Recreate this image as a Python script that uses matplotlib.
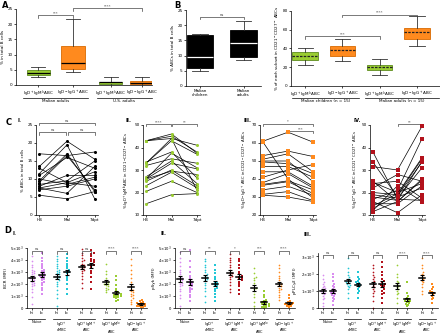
import numpy as np
import matplotlib.pyplot as plt

W, H = 440, 333
fig = plt.figure(figsize=(W / 100, H / 100), dpi=100)
plt.rcParams['font.family'] = 'DejaVu Sans'
FS = 3.0

GREEN = '#9ACD32'
GREEN_E = '#5E8C1E'
ORANGE = '#FF8A1E'
ORANGE_E = '#D86A00'
RED = '#B3121C'
CYAN = '#22C7D6'
VIOLET = '#D98CF0'

# ---------------- data ----------------
# A: box stats (whislo, q1, med, q3, whishi)
a_labels = [r'IgD$^+$IgM$^{lo}$ABC', r'IgD$^-$IgG$^+$ABC', r'IgD$^+$IgM$^{lo}$ABC', r'IgD$^-$IgG$^+$ABC']
a_whislo = [2.7, 4.3, 0.0, 0.0]
a_q1 = [3.3, 5.3, 0.3, 0.2]
a_med = [4.0, 7.3, 0.9, 0.8]
a_q3 = [5.0, 12.7, 1.0, 1.3]
a_whishi = [6.0, 21.8, 2.6, 2.5]

# B left
bl_labels = ['Malian\nchildren', 'Malian\nadults']
bl_whislo = [5.0, 8.7]
bl_q1 = [5.8, 9.6]
bl_med = [9.6, 14.0]
bl_q3 = [16.8, 18.4]
bl_whishi = [17.2, 21.5]

# B right
br_labels = [r'IgD$^+$IgM$^{lo}$ABC', r'IgD$^-$IgG$^+$ABC', r'IgD$^+$IgM$^{lo}$ABC', r'IgD$^-$IgG$^+$ABC']
br_whislo = [22, 27, 11.5, 43]
br_q1 = [28, 32, 17, 50]
br_med = [32.5, 38, 20, 58]
br_q3 = [36, 42.5, 22.5, 62]
br_whishi = [41, 50, 28.5, 75]

# C: paired values at HB, Mal, 7dpt
c_times = ['HB', 'Mal', '7dpt']
c1_hb = [17, 13.5, 13, 11.5, 11, 10, 9.5, 8.5, 8, 7.5, 7.5, 7, 5.5, 9]
c1_mal = [16.5, 20.5, 9, 19.5, 16, 8.5, 17, 9.5, 11, 9, 6, 8, 4.5, 16.5]
c1_7d = [17.5, 15.5, 12, 4.5, 13, 10.5, 6.5, 15, 11, 8, 13.5, 10, 6.5, 7]

c2_hb = [43, 43, 33.5, 33, 32, 27, 26, 26, 25, 23, 20.5, 15, 33, 26, 43]
c2_mal = [45, 46, 38, 44, 35, 34, 29.5, 37.5, 30, 29, 25, 19, 43, 33, 44]
c2_7d = [38, 37.5, 26.5, 21, 33, 24, 28, 31, 23, 22, 20, 19.5, 37, 30.5, 41]

c3_hb = [61, 60.5, 53, 51, 50, 49.5, 47, 44, 41, 38, 37, 36.5, 34, 31.5, 31]
c3_mal = [66, 40, 55.5, 54, 50, 48.5, 47, 44, 45, 43, 39, 38.5, 36, 33, 30]
c3_7d = [60.5, 29.5, 52.5, 44, 38.5, 43, 41, 36, 48, 35, 34, 32, 31, 28, 27.5]

c4_hb = [38, 33.5, 31.5, 25, 24.5, 24, 22, 20, 19, 18, 17, 16, 15, 14, 13, 12, 11.5]
c4_mal = [17, 18, 30, 16, 20, 25, 28, 19, 17.5, 16.5, 21, 11, 15, 19.5, 18.5, 23, 16]
c4_7d = [16.5, 22, 49.5, 26, 24, 17.5, 25, 35, 31, 34, 44, 19, 23, 35.5, 33.5, 16, 25.5]

# D: MFI values (x10^3), hi / lo per subset
d_groups = ['Naive', 'IgD$^+$\ncMBC', 'IgD$^+$IgM$^+$\nABC', 'IgD$^+$IgM$^{lo}$\nABC', 'IgD$^-$IgG$^+$\nABC']
d_colors = [VIOLET, CYAN, RED, GREEN, ORANGE]

d1 = [
    [0.3, 0.9, 1.3, 1.6, 1.8, 1.9, 2.0, 2.1, 2.2, 2.3, 2.4, 2.5, 2.5, 2.6, 2.7, 2.8, 2.9, 3.0, 3.1, 3.2, 3.4, 3.6, 3.9, 4.3],
    [1.2, 1.5, 1.7, 1.9, 2.1, 2.2, 2.3, 2.4, 2.5, 2.6, 2.7, 2.7, 2.8, 2.9, 3.0, 3.1, 3.2, 3.3, 3.5, 3.7, 3.9, 4.2, 4.6],
    [0.2, 0.8, 1.2, 1.5, 1.8, 2.0, 2.2, 2.3, 2.5, 2.6, 2.7, 2.8, 2.9, 3.0, 3.1, 3.2, 3.3, 3.5, 3.7, 3.9, 4.1, 4.3],
    [1.2, 1.6, 2.0, 2.3, 2.5, 2.7, 2.9, 3.0, 3.1, 3.2, 3.3, 3.5, 3.7, 3.9, 4.2, 4.5],
    [1.7, 2.1, 2.4, 2.7, 2.9, 3.1, 3.2, 3.3, 3.4, 3.5, 3.6, 3.7, 3.9, 4.0, 4.2, 4.4, 4.6, 4.9],
    [1.6, 2.2, 2.6, 2.9, 3.1, 3.3, 3.5, 3.6, 3.7, 3.8, 3.9, 4.0, 4.1, 4.3, 4.5, 4.6, 4.8],
    [1.3, 1.5, 1.6, 1.7, 1.8, 1.9, 2.0, 2.0, 2.1, 2.2, 2.3, 2.5, 2.8, 3.1, 3.7],
    [0.6, 0.7, 0.8, 0.9, 0.9, 1.0, 1.0, 1.1, 1.1, 1.2, 1.2, 1.3, 1.4, 1.6, 1.9, 2.3, 2.7],
    [0.3, 0.5, 0.7, 0.8, 1.0, 1.1, 1.2, 1.3, 1.4, 1.5, 1.6, 1.8, 2.0, 2.2, 2.5, 2.8, 3.2, 3.6, 4.1],
    [0.05, 0.1, 0.15, 0.2, 0.2, 0.25, 0.3, 0.3, 0.35, 0.4, 0.45, 0.5, 0.6, 0.7],
]
d2 = [
    [0.2, 0.8, 1.1, 1.4, 1.6, 1.8, 1.9, 2.0, 2.1, 2.2, 2.3, 2.4, 2.5, 2.6, 2.8, 3.0, 3.2, 3.5, 3.8, 4.2, 4.7],
    [0.6, 0.9, 1.1, 1.3, 1.5, 1.6, 1.7, 1.8, 1.9, 2.0, 2.1, 2.2, 2.3, 2.5, 2.7, 3.0, 3.4, 3.9, 4.8],
    [0.5, 1.0, 1.4, 1.7, 1.9, 2.1, 2.3, 2.4, 2.5, 2.6, 2.7, 2.8, 3.0, 3.2, 3.4, 3.6, 3.9, 4.1],
    [0.6, 0.9, 1.2, 1.4, 1.6, 1.7, 1.8, 1.9, 2.0, 2.1, 2.2, 2.4, 2.6, 2.9, 3.2, 3.6],
    [1.3, 1.6, 1.9, 2.2, 2.4, 2.6, 2.7, 2.8, 2.9, 3.0, 3.2, 3.4, 3.6, 3.8, 4.0, 4.2, 4.5],
    [1.2, 1.5, 1.8, 2.0, 2.2, 2.3, 2.4, 2.5, 2.6, 2.7, 2.8, 3.0, 3.3, 3.6, 3.9, 4.1],
    [0.0, 0.2, 0.5, 0.9, 1.2, 1.4, 1.6, 1.7, 1.9, 2.1, 2.3, 2.5, 2.6, 2.9, 3.3],
    [0.0, 0.05, 0.1, 0.15, 0.2, 0.25, 0.3, 0.35, 0.4, 0.45, 0.5, 0.6, 0.7, 0.9, 1.1, 1.4],
    [0.7, 0.9, 1.1, 1.3, 1.5, 1.6, 1.7, 1.8, 1.9, 2.0, 2.1, 2.3, 2.5, 2.7, 3.0, 3.3, 3.6],
    [0.1, 0.15, 0.2, 0.25, 0.3, 0.3, 0.35, 0.4, 0.45, 0.5, 0.6, 0.8, 1.1],
]
d3 = [
    [0.1, 0.3, 0.5, 0.6, 0.7, 0.8, 0.85, 0.9, 0.95, 1.0, 1.05, 1.1, 1.15, 1.2, 1.3, 1.4, 1.5, 1.7, 1.9],
    [0.2, 0.4, 0.5, 0.6, 0.7, 0.75, 0.8, 0.85, 0.9, 0.95, 1.0, 1.05, 1.1, 1.2, 1.3, 1.4, 1.6, 1.8, 2.0],
    [0.6, 0.9, 1.1, 1.2, 1.3, 1.35, 1.4, 1.45, 1.5, 1.55, 1.6, 1.7, 1.8, 1.9, 2.1, 2.3, 2.9],
    [0.6, 0.9, 1.0, 1.1, 1.2, 1.3, 1.35, 1.4, 1.45, 1.5, 1.6, 1.7, 1.8, 2.1],
    [0.0, 0.4, 0.7, 0.9, 1.0, 1.1, 1.2, 1.3, 1.4, 1.5, 1.6, 1.7, 1.8, 1.9, 2.1, 2.3, 2.5],
    [0.3, 0.6, 0.8, 0.9, 1.0, 1.1, 1.2, 1.3, 1.35, 1.4, 1.5, 1.6, 1.7, 1.9, 2.1, 2.4, 2.7],
    [0.3, 0.6, 0.8, 0.9, 1.0, 1.1, 1.2, 1.3, 1.4, 1.5, 1.6, 1.8, 2.0, 2.5],
    [0.1, 0.2, 0.25, 0.3, 0.35, 0.4, 0.4, 0.45, 0.5, 0.55, 0.6, 0.7, 0.9, 1.5],
    [0.8, 1.0, 1.2, 1.4, 1.5, 1.6, 1.7, 1.8, 1.9, 2.0, 2.1, 2.3, 2.5, 2.9],
    [0.3, 0.5, 0.6, 0.7, 0.8, 0.85, 0.9, 0.95, 1.0, 1.1, 1.2, 1.4],
]


# ---------------- helpers ----------------
def add_ax(left, top, right, bottom):
    return fig.add_axes([left / W, 1 - bottom / H, (right - left) / W, (bottom - top) / H])


def style(ax):
    for s in ['top', 'right']:
        ax.spines[s].set_visible(False)
    for s in ['left', 'bottom']:
        ax.spines[s].set_linewidth(0.5)
    ax.tick_params(labelsize=FS, width=0.5, length=1.5, pad=1)


def bracket(ax, x1, x2, y, h, txt, tdy=0.0):
    ax.plot([x1, x1, x2, x2], [y - h, y, y, y - h], color='#444444', lw=0.5, clip_on=False)
    ax.text((x1 + x2) / 2, y + tdy, txt, ha='center', va='bottom', fontsize=FS - 0.3, color='#444444')


def underline(ax, x1, x2, yf, txt, tyf, fs=FS, ls=0.9):
    tr = ax.get_xaxis_transform()
    ax.plot([x1, x2], [yf, yf], color='black', lw=0.5, transform=tr, clip_on=False)
    ax.text((x1 + x2) / 2, tyf, txt, ha='center', va='top', fontsize=fs, transform=tr,
            linespacing=ls)


def boxes(ax, pos, wl, q1, med, q3, wh, faces, edges, medc, width, medls='-'):
    stats = [dict(whislo=a, q1=b, med=c, q3=d, whishi=e, fliers=[])
             for a, b, c, d, e in zip(wl, q1, med, q3, wh)]
    bp = ax.bxp(stats, positions=pos, widths=width, patch_artist=True, showfliers=False,
                boxprops=dict(lw=0.6), whiskerprops=dict(lw=0.6, color='#333333'),
                capprops=dict(lw=0.6, color='#333333'),
                medianprops=dict(lw=0.9, color=medc, ls=medls))
    for b, f, e in zip(bp['boxes'], faces, edges):
        b.set_facecolor(f)
        b.set_edgecolor(e)
    for c in bp['caps']:
        xs = c.get_xdata()
        m = xs.mean()
        c.set_xdata([m - width * 0.3, m + width * 0.3])
    return bp


def swarm(vals, ymax, hpx, upx, dmin=1.8, maxo=0.45):
    # beeswarm offsets in x data units
    vals = np.asarray(vals)
    order = np.argsort(vals)
    placed = []
    offs = np.zeros(len(vals))
    step = dmin / upx * 0.6
    cands = [0.0]
    k = 1
    while k * step <= maxo:
        cands += [k * step, -k * step]
        k += 1
    for i in order:
        ypx = vals[i] / ymax * hpx
        best, bestd = 0.0, -1
        for o in cands:
            d = min([np.hypot((o - po) * upx, ypx - py) for po, py in placed] + [99])
            if d >= dmin:
                best = o
                break
            if d > bestd:
                best, bestd = o, d
        offs[i] = best
        placed.append((best, ypx))
    return offs


# ---------------- panel A ----------------
axA = add_ax(16, 9, 152, 85)
style(axA)
posA = [0, 1, 2.1, 3]
boxes(axA, posA, a_whislo, a_q1, a_med, a_q3, a_whishi,
      [GREEN, ORANGE, GREEN, ORANGE], [GREEN_E, ORANGE_E, GREEN_E, ORANGE_E], 'black', 0.68)
axA.set_ylim(0, 25)
axA.set_yticks([0, 5, 10, 15, 20, 25])
axA.set_xlim(-0.65, 3.3)
axA.set_xticks(posA)
axA.set_xticklabels(a_labels, fontsize=FS)
axA.set_ylabel('% in total B cells', fontsize=FS, labelpad=1.5)
underline(axA, -0.45, 1.45, -0.165, 'Malian adults', -0.18)
underline(axA, 1.7, 3.3, -0.165, 'U.S. adults', -0.18)
bracket(axA, 0, 1, 23.0, 0.8, '***')
bracket(axA, 1, 3, 25.3, 0.8, '****')
fig.text(2 / W, 1 - 1 / H, 'A', fontsize=6, fontweight='bold', va='top')

# ---------------- panel B ----------------
axBl = add_ax(186, 10, 261, 86)
style(axBl)
boxes(axBl, [0, 1], bl_whislo, bl_q1, bl_med, bl_q3, bl_whishi,
      ['black', 'black'], ['black', 'black'], 'white', 0.6)
axBl.set_ylim(0, 25)
axBl.set_yticks([0, 5, 10, 15, 20, 25])
axBl.set_xlim(-0.32, 1.4)
axBl.set_xticks([0, 1])
axBl.set_xticklabels(bl_labels, fontsize=FS, linespacing=1.0)
axBl.set_ylabel('% ABCs in total B cells', fontsize=FS, labelpad=1.5)
bracket(axBl, 0, 1, 22.8, 0.8, 'ns')
fig.text(174 / W, 1 - 1 / H, 'B', fontsize=6, fontweight='bold', va='top')

axBr = add_ax(291, 11, 440, 86)
style(axBr)
boxes(axBr, [0, 1, 2, 3], br_whislo, br_q1, br_med, br_q3, br_whishi,
      [GREEN, ORANGE, GREEN, ORANGE], [GREEN_E, ORANGE_E, GREEN_E, ORANGE_E], '#222222', 0.68,
      medls=(0, (2, 1)))
axBr.set_ylim(0, 80)
axBr.set_yticks([0, 20, 40, 60, 80])
axBr.set_xlim(-0.38, 3.62)
axBr.set_xticks([0, 1, 2, 3])
axBr.set_xticklabels(br_labels, fontsize=FS)
axBr.set_ylabel('% of each subset in CD21$^-$CD27$^-$ ABCs', fontsize=FS, labelpad=1.5)
underline(axBr, -0.35, 1.45, -0.165, 'Malian children (n = 15)', -0.18)
underline(axBr, 1.6, 3.6, -0.165, 'Malian adults (n = 15)', -0.18)
bracket(axBr, 0, 2, 53, 2.5, '***')
bracket(axBr, 1, 3, 76, 2.5, '****')

# ---------------- panel C ----------------
c_sets = [
    ((36, 125, 98, 215), (0, 25, 5), [c1_hb, c1_mal, c1_7d], 'black', 'o', 'I.',
     '% ABCs in total B cells'),
    ((143, 125, 200, 215), (10, 50, 10), [c2_hb, c2_mal, c2_7d], GREEN, 'o', 'II.',
     '% IgD$^+$IgM$^{lo}$ABC in CD21$^-$CD27$^-$ ABCs'),
    ((260, 125, 316, 215), (20, 70, 10), [c3_hb, c3_mal, c3_7d], ORANGE, 's', 'III.',
     '% IgD$^-$IgG$^+$ ABC in CD21$^-$CD27$^-$ ABCs'),
    ((370, 125, 425, 215), (10, 50, 10), [c4_hb, c4_mal, c4_7d], RED, 's', 'IV.',
     '% IgD$^-$IgG$^-$ ABC in CD21$^-$CD27$^-$ ABCs'),
]
c_axes = []
for box, (lo, hi, st), series, col, mk, ttl, ylab in c_sets:
    ax = add_ax(*box)
    style(ax)
    arr = np.array(series)
    for j in range(arr.shape[1]):
        ax.plot([0, 1, 2], arr[:, j], color='black', lw=0.5, marker=mk, ms=2.2,
                mfc=col, mec=col, mew=0, clip_on=False, zorder=3)
    ax.set_ylim(lo, hi)
    ax.set_yticks(np.arange(lo, hi + 0.1, st))
    ax.set_xlim(-0.12, 2.12)
    ax.set_xticks([0, 1, 2])
    ax.set_xticklabels(c_times, fontsize=FS)
    ax.set_ylabel(ylab, fontsize=FS - 0.3, labelpad=1.5)
    ax.text(-0.3, 1.02, ttl, transform=ax.transAxes, fontsize=FS + 0.8, fontweight='bold',
            ha='left', va='bottom')
    c_axes.append(ax)

bracket(c_axes[0], 0, 2, 25.6, 0.7, 'ns')
bracket(c_axes[0], 0, 0.95, 23.0, 0.7, 'ns')
bracket(c_axes[0], 1.05, 2, 23.0, 0.7, 'ns')
bracket(c_axes[1], 0, 0.97, 50.5, 1.0, '****')
bracket(c_axes[1], 1.03, 2, 50.5, 1.0, '**')
bracket(c_axes[2], 0, 2, 70.8, 1.2, '*')
bracket(c_axes[2], 1, 2, 66.5, 1.2, '***')
bracket(c_axes[3], 1, 2, 50.5, 1.0, '**')
fig.text(6 / W, 1 - 118 / H, 'C', fontsize=6, fontweight='bold', va='top')

# ---------------- panel D ----------------
d_sets = [
    ((27, 248, 147, 308), 5, d1, 'I.', 'BCR (MFI)',
     ['ns', 'ns', 'ns', '****', '****']),
    ((175, 248, 295, 308), 5, d2, 'II.', 'pSyk (MFI)',
     ['ns', '**', '*', '***', '****']),
    ((318, 253, 438, 308), 3, d3, 'III.', r'pPLC$\gamma$2 (MFI)',
     ['ns', 'ns', 'ns', '****', '****']),
]
for (l, t, r, b), ymax, data, ttl, ylab, sig in d_sets:
    ax = add_ax(l, t, r, b)
    style(ax)
    hpx = b - t
    ylim_top = ymax * 1.0 + (0.2 if ymax == 3 else 0)
    positions = []
    for g in range(5):
        for s in range(2):
            x0 = 2.5 * g + 1.0 * s
            positions.append(x0)
            vals = np.array(data[2 * g + s])
            offs = swarm(vals, ylim_top, hpx, 10.0)
            ax.scatter(x0 + offs, vals * 1000, s=1.5, color=d_colors[g], linewidths=0,
                       marker='o' if s == 0 else 's', zorder=2, clip_on=False)
            m = vals.mean()
            se = vals.std(ddof=1) / np.sqrt(len(vals))
            ax.plot([x0 - 0.3, x0 + 0.3], [m * 1000, m * 1000], color='black', lw=1.1, zorder=4)
            ax.errorbar(x0, m * 1000, yerr=se * 1000, color='black', lw=0.8, capsize=1.2,
                        capthick=0.8, zorder=4)
        bracket(ax, 2.5 * g, 2.5 * g + 1, ylim_top * 1000 * 0.955, ylim_top * 1000 * 0.05, sig[g])
        underline(ax, 2.5 * g - 0.35, 2.5 * g + 1.35, -10.5 / hpx, d_groups[g], -12.0 / hpx,
                  fs=FS - 0.4, ls=0.85)
    ax.set_ylim(0, ylim_top * 1000)
    yt = np.arange(0, ymax + 1) * 1000
    ax.set_yticks(yt)
    ax.set_yticklabels(['0'] + ['%d×10$^3$' % k for k in range(1, ymax + 1)], fontsize=FS - 0.3)
    ax.set_xlim(-0.5, 11.6)
    ax.set_xticks(positions)
    ax.set_xticklabels(['hi', 'lo'] * 5, fontsize=FS)
    ax.set_ylabel(ylab, fontsize=FS, labelpad=1)
    ax.text(-0.12, 1.2 if ymax == 5 else 1.3, ttl, transform=ax.transAxes, fontsize=FS + 0.8,
            fontweight='bold', ha='left', va='bottom')
fig.text(4 / W, 1 - 226 / H, 'D', fontsize=6, fontweight='bold', va='top')

fig.savefig('out.png', dpi=100)
